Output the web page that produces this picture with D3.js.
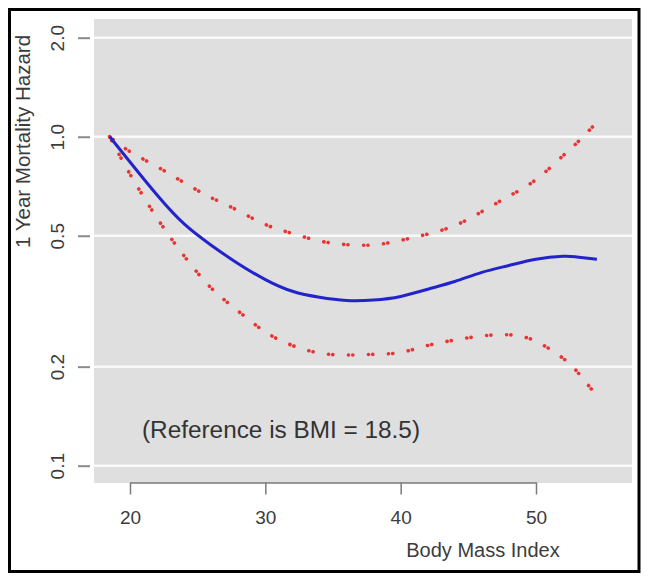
<!DOCTYPE html>
<html>
<head>
<meta charset="utf-8">
<script src="https://cdn.jsdelivr.net/npm/d3@7"></script>
<style>
  html, body { margin: 0; padding: 0; background: #fff; }
  svg { display: block; font-family: "Liberation Sans", Arial, Helvetica, sans-serif; }
</style>
</head>
<body>
<svg id="chart" width="649" height="581"></svg>
<script>
// ---- data ----
const bmi      = [18.5, 20, 22, 24, 26, 28, 30, 32, 34, 36, 38, 40, 42, 44, 46, 48, 50, 52, 53, 54.5];
const hazard   = [1.0, 0.838, 0.665, 0.543, 0.468, 0.411, 0.368, 0.339, 0.325, 0.318, 0.319, 0.327, 0.344, 0.363, 0.387, 0.406, 0.424, 0.433, 0.431, 0.424];
const upperCI  = [1.0, 0.901, 0.811, 0.725, 0.653, 0.596, 0.541, 0.508, 0.482, 0.470, 0.469, 0.484, 0.506, 0.537, 0.592, 0.660, 0.741, 0.876, 0.956, 1.106];
const lowerCI  = [1.0, 0.770, 0.566, 0.434, 0.347, 0.295, 0.255, 0.232, 0.220, 0.217, 0.218, 0.221, 0.232, 0.241, 0.248, 0.250, 0.239, 0.212, 0.194, 0.163];
const yTicks   = [0.1, 0.2, 0.5, 1.0, 2.0];
const yTickLabels = ["0.1", "0.2", "0.5", "1.0", "2.0"];
const xTicks   = [20, 30, 40, 50];
const xTitle   = "Body Mass Index";
const yTitle   = "1 Year Mortality Hazard";
const note     = "(Reference is BMI = 18.5)";

// ---- layout ----
const svg = d3.select("#chart");
const panel = { left: 94, right: 632, top: 19, bottom: 483 };

const x = d3.scaleLinear().domain([20, 50]).range([130, 536]);
const y = d3.scaleLog().domain([0.1, 2]).range([465.7, 37.7]);

// outer frame
svg.append("rect")
  .attr("x", 9.5).attr("y", 9.5).attr("width", 629.5).attr("height", 562)
  .attr("fill", "#fff").attr("stroke", "#000").attr("stroke-width", 3);

// panel background
svg.append("rect")
  .attr("x", panel.left).attr("y", panel.top)
  .attr("width", panel.right - panel.left).attr("height", panel.bottom - panel.top)
  .attr("fill", "#dfdfdf");

// horizontal gridlines
svg.append("g").selectAll("line").data(yTicks).join("line")
  .attr("x1", panel.left).attr("x2", panel.right)
  .attr("y1", d => y(d)).attr("y2", d => y(d))
  .attr("stroke", "#fafafa").attr("stroke-width", 2.5);

// y axis (tick marks + rotated labels)
const yAxis = d3.axisLeft(y).tickValues(yTicks)
  .tickFormat((d, i) => yTickLabels[i]).tickSize(12).tickPadding(16);
const gy = svg.append("g").attr("transform", "translate(90,0)").call(yAxis);
gy.select(".domain").remove();
gy.selectAll(".tick line").attr("stroke", "#8a8a8a").attr("stroke-width", 2);
gy.selectAll(".tick text")
  .attr("fill", "#3c3c3c").attr("font-size", 19)
  .attr("text-anchor", "middle").attr("x", null).attr("dy", null)
  .attr("transform", "translate(-33,0) rotate(-90)")
  .attr("dominant-baseline", "central");

// x axis
const xAxis = d3.axisBottom(x).tickValues(xTicks).tickSize(12).tickPadding(16).tickSizeOuter(0);
const gx = svg.append("g").attr("transform", "translate(0,482.5)").call(xAxis);
gx.select(".domain").attr("stroke", "#7a7a7a").attr("stroke-width", 1.5);
gx.selectAll(".tick line").attr("stroke", "#7a7a7a").attr("stroke-width", 1.5);
gx.selectAll(".tick text").attr("fill", "#3c3c3c").attr("font-size", 19);

// axis titles
svg.append("text")
  .attr("x", 483).attr("y", 557)
  .attr("text-anchor", "middle")
  .attr("font-size", 20).attr("fill", "#3c3c3c")
  .text(xTitle);

svg.append("text")
  .attr("transform", "translate(30,141.5) rotate(-90)")
  .attr("text-anchor", "middle")
  .attr("font-size", 20.5).attr("fill", "#3c3c3c")
  .text(yTitle);

// annotation
svg.append("text")
  .attr("x", 142).attr("y", 438)
  .attr("font-size", 23).attr("fill", "#333")
  .attr("textLength", 278).attr("lengthAdjust", "spacingAndGlyphs")
  .text(note);

// lines
const line = d3.line()
  .x(d => x(d[0])).y(d => y(d[1]))
  .curve(d3.curveNatural);

const zip = vals => bmi.map((b, i) => [b, vals[i]]);

[upperCI, lowerCI].forEach(vals => {
  svg.append("path")
    .datum(zip(vals))
    .attr("d", line)
    .attr("fill", "none")
    .attr("stroke", "#ea3434")
    .attr("stroke-width", 3.6)
    .attr("stroke-linecap", "round")
    .attr("stroke-dasharray", "0.1,4.2,0.1,15.6");
});

svg.append("path")
  .datum(zip(hazard))
  .attr("d", line)
  .attr("fill", "none")
  .attr("stroke", "#2323cc")
  .attr("stroke-width", 3);
</script>
</body>
</html>
